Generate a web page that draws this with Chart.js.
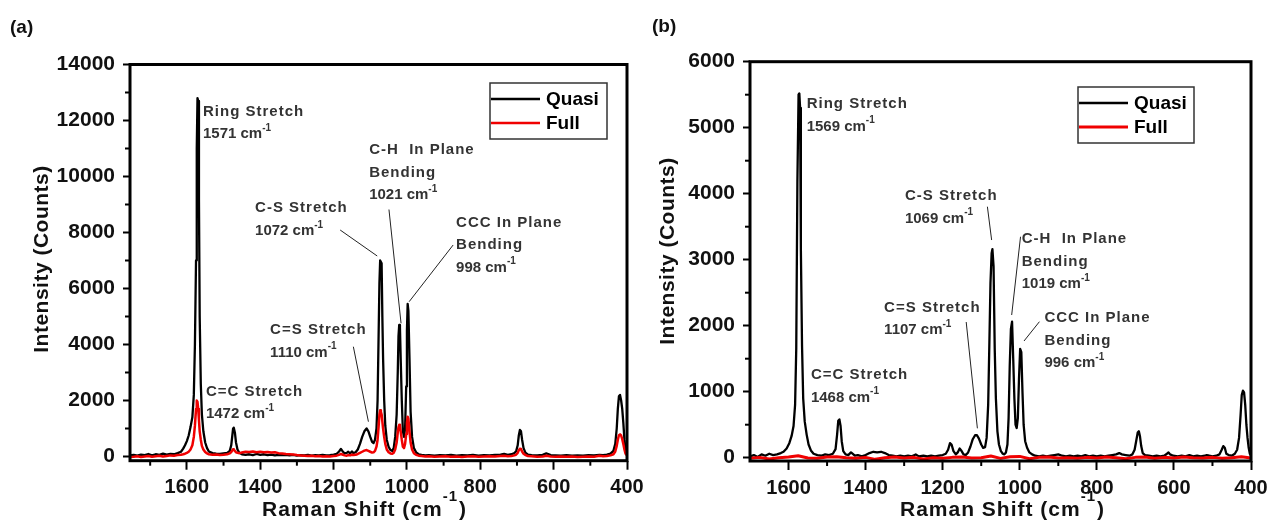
<!DOCTYPE html>
<html>
<head>
<meta charset="utf-8">
<script src="https://cdn.jsdelivr.net/npm/chart.js@4.4.1/dist/chart.umd.min.js"></script>
<style>
  html, body { margin: 0; padding: 0; background: #fff; overflow: hidden; width: 1271px; height: 529px; }
  canvas { position: absolute; top: 0; }
  #a { left: 0; }
  #b { left: 640px; }
</style>
</head>
<body>
<canvas id="a" width="660" height="529"></canvas>
<canvas id="b" width="650" height="529"></canvas>
<script>
// --- Panel (a) spectra ---
const waveA = [
  1755,1745,1735,1725,1715,1705,1695,1685,1675,1665,
  1655,1645,1635,1625,1616,1610,1605,1600,1595,1590,
  1585,1581,1578,1575,1573,1571,1569,1567,1565,1562,
  1559,1555,1550,1545,1540,1530,1520,1510,1500,1490,
  1483,1479,1476,1474,1472,1469,1466,1462,1457,1450,
  1440,1430,1420,1410,1400,1390,1380,1370,1360,1350,
  1340,1330,1320,1310,1300,1290,1280,1270,1260,1250,
  1240,1230,1220,1210,1200,1192,1185,1180,1176,1170,
  1164,1160,1155,1150,1146,1140,1134,1128,1122,1116,
  1110,1105,1100,1095,1091,1087,1083,1080,1077,1075,
  1073,1071,1069,1067,1065,1062,1059,1055,1050,1045,
  1040,1036,1032,1028,1025,1023,1021,1019,1017,1014,
  1011,1008,1005,1002,1000,998,996,993,990,986,
  981,975,968,960,950,940,925,910,895,880,
  865,850,835,820,805,790,775,760,745,735,
  725,715,707,702,698,695,692,689,686,682,
  677,670,660,645,630,620,615,608,595,580,
  565,550,535,520,505,490,475,465,455,445,
  437,432,428,425,422,419,416,413,410,407,
  404,400
];
const quasiA = [
  40,60,30,70,50,90,40,80,60,100,
  70,90,80,120,170,280,400,550,750,1050,
  1400,2200,4000,7000,11000,12800,12700,9200,5000,2600,
  1500,900,500,300,180,120,100,90,110,130,
  200,400,750,1000,1030,850,500,250,130,80,
  60,80,50,90,60,80,50,70,40,60,
  50,60,40,60,30,50,40,60,30,50,
  40,60,40,50,70,90,180,270,200,110,
  130,170,110,180,120,150,250,450,700,900,
  1000,900,700,520,480,600,1000,2000,4500,6200,
  7000,7000,6900,5000,3500,2000,1100,600,350,230,
  200,300,700,1500,3000,4300,4700,4600,3500,2000,
  900,700,1000,2500,4500,5450,5200,3500,1600,700,
  300,150,80,60,40,50,30,50,40,60,
  30,50,40,60,30,50,40,60,70,90,
  60,80,120,200,400,750,950,900,600,300,
  140,70,50,40,60,110,90,50,40,30,
  50,30,40,30,50,40,60,50,70,100,
  200,450,1000,1700,2150,2200,2000,1700,1200,600,
  250,120
];
const fullA = [
  -20,-10,10,-20,0,20,-10,10,30,0,
  20,40,30,50,60,80,100,130,170,250,
  400,700,1100,1700,2000,1950,1700,1300,900,600,
  380,250,160,110,80,60,70,50,60,80,
  110,160,220,260,250,200,150,130,120,140,
  170,160,180,150,170,150,160,140,150,120,
  110,90,80,70,50,40,30,20,30,10,
  20,0,10,0,20,30,60,90,70,40,
  30,50,40,60,50,60,90,130,170,210,
  230,200,170,140,150,200,350,600,1100,1500,
  1650,1600,1500,1250,1000,700,450,250,150,110,
  100,130,250,500,850,1050,1130,1100,900,600,
  350,300,450,800,1200,1420,1350,900,500,250,
  120,60,30,20,0,10,-10,0,10,-10,
  0,-20,0,10,-10,0,10,0,20,30,
  10,20,40,70,130,220,280,270,180,100,
  50,20,10,-10,0,30,20,0,-10,0,
  -10,0,-20,-10,0,-10,30,10,20,40,
  80,180,380,600,760,790,750,620,450,250,
  100,40
];

// --- Panel (b) spectra ---
const waveB = [
  1700,1690,1680,1670,1660,1650,1640,1630,1620,1613,
  1605,1598,1592,1587,1583,1580,1577,1574,1572,1570,
  1568,1565,1562,1558,1553,1548,1542,1535,1525,1515,
  1505,1495,1485,1478,1474,1471,1468,1465,1462,1458,
  1452,1445,1438,1434,1428,1420,1410,1400,1390,1380,
  1370,1360,1350,1340,1330,1320,1310,1300,1290,1280,
  1270,1262,1250,1240,1230,1220,1210,1200,1192,1186,
  1181,1177,1172,1166,1161,1156,1152,1146,1140,1134,
  1128,1122,1116,1111,1106,1100,1095,1090,1086,1082,
  1079,1076,1073,1071,1068,1065,1062,1058,1054,1049,
  1044,1040,1036,1032,1029,1026,1023,1020,1017,1014,
  1011,1008,1005,1002,999,996,993,990,986,981,
  975,968,960,950,940,930,920,910,900,890,
  880,870,860,850,840,830,820,810,800,790,
  780,770,760,750,742,735,725,715,708,702,
  698,694,691,688,685,681,675,665,655,645,
  635,625,618,614,610,602,590,580,570,560,
  550,540,530,520,515,508,500,490,482,476,
  472,468,464,458,450,442,436,431,427,424,
  421,418,415,412,409,406,403,400
];
const quasiB = [
  20,40,10,50,30,60,40,50,70,90,
  140,220,330,480,800,1650,4200,5500,5520,5300,
  3150,1700,900,550,350,200,110,60,40,30,
  50,40,60,130,350,560,580,480,250,100,
  50,40,80,60,30,40,20,40,70,90,
  80,90,70,40,30,20,30,20,30,20,
  50,20,30,20,30,20,30,40,60,120,
  220,200,100,50,80,140,110,50,40,80,
  170,280,340,340,290,200,150,160,300,800,
  1700,2650,3100,3160,2900,1650,900,400,200,100,
  60,50,80,200,600,1400,1950,2060,1500,900,
  500,450,600,1200,1650,1600,1000,500,250,150,
  80,50,30,20,30,20,30,40,50,30,
  20,30,20,30,20,40,20,30,20,30,
  20,30,40,50,70,50,40,30,50,120,
  250,380,400,320,180,70,40,30,20,30,
  20,30,60,80,50,30,20,30,20,40,
  20,30,20,30,40,30,20,30,50,120,
  175,150,60,40,30,60,120,300,650,950,
  1015,990,800,500,300,150,60,30
];
const waveFullB = [
  1700,1675,1650,1625,1600,1575,1550,1525,1500,1475,
  1450,1425,1400,1375,1350,1325,1300,1275,1250,1225,
  1200,1175,1150,1125,1100,1075,1050,1025,1000,975,
  950,925,900,875,850,825,800,775,750,725,
  700,675,650,625,600,575,550,525,500,475,
  450,425,400
];
const fullB = [
  -10,5,-20,0,10,30,-5,-10,10,15,
  0,-10,5,-25,0,10,-5,5,-20,0,
  -10,5,10,-5,0,25,-10,15,20,-15,
  5,10,-5,0,-10,5,-5,10,0,-15,
  5,10,-10,5,-5,10,0,-5,5,-10,
  0,15,-5
];

// --- Axes ---
const xTicks = [1600, 1400, 1200, 1000, 800, 600, 400];
const xMinorA = [1700, 1500, 1300, 1100, 900, 700, 500];
const xMinorB = [1500, 1300, 1100, 900, 700, 500];
const yTicksA = [0, 2000, 4000, 6000, 8000, 10000, 12000, 14000];
const yMinorA = [1000, 3000, 5000, 7000, 9000, 11000, 13000];
const yTicksB = [0, 1000, 2000, 3000, 4000, 5000, 6000];
const yMinorB = [500, 1500, 2500, 3500, 4500, 5500];

// --- Peak annotations: text anchor (x, y) and leader line ---
const annotA = [
  { lines: ['Ring Stretch'], wn: 1571, x: 1556, y: 12314 },
  { lines: ['C=C Stretch'], wn: 1472, x: 1548, y: 2314 },
  { lines: ['C-S Stretch'], wn: 1072, x: 1414, y: 8864 },
  { lines: ['C=S Stretch'], wn: 1110, x: 1373, y: 4518 },
  { lines: ['C-H  In Plane', 'Bending'], wn: 1021, x: 1103, y: 10946 },
  { lines: ['CCC In Plane', 'Bending'], wn: 998, x: 866, y: 8350 }
];
const leadersA = [
  [1182, 8089, 1081, 7161],
  [1146, 3921, 1105, 1243],
  [1049, 8821, 1016, 4757],
  [874, 7554, 994, 5529]
];
const annotB = [
  { lines: ['Ring Stretch'], wn: 1569, x: 1553, y: 5359 },
  { lines: ['C=C Stretch'], wn: 1468, x: 1542, y: 1253 },
  { lines: ['C-S Stretch'], wn: 1069, x: 1298, y: 3965 },
  { lines: ['C=S Stretch'], wn: 1107, x: 1352, y: 2273 },
  { lines: ['C-H  In Plane', 'Bending'], wn: 1019, x: 995, y: 3314 },
  { lines: ['CCC In Plane', 'Bending'], wn: 996, x: 936, y: 2112 }
];
const leadersB = [
  [1084, 3803, 1073, 3298],
  [1139, 2056, 1110, 445],
  [998, 3348, 1021, 2162],
  [949, 2061, 989, 1768]
];

const FONT = "'Liberation Sans', Arial, sans-serif";

// per-canvas decoration settings (pixel layout only)
const decor = {
  a: { tag: '(a)', tagX: 10, tagY: 28, annots: annotA, leaders: leadersA, minorX: xMinorA, minorY: yMinorA,
       legend: { x: 490, y: 83, w: 117, h: 56 }, yTitle: [42, 259], xTitle: [262, 510] },
  b: { tag: '(b)', tagX: 12, tagY: 27, annots: annotB, leaders: leadersB, minorX: xMinorB, minorY: yMinorB,
       legend: { x: 438, y: 87, w: 116, h: 56 }, yTitle: [28, 251], xTitle: [260, 510] }
};

function supText(ctx, x, y, base, size, supSize, raise) {
  ctx.font = `bold ${size}px ${FONT}`;
  ctx.fillText(base, x, y);
  const w = ctx.measureText(base).width;
  ctx.font = `bold ${supSize}px ${FONT}`;
  ctx.fillText('-1', x + w, y - raise);
  return x + w + ctx.measureText('-1').width;
}

const deco = {
  id: 'deco',
  afterDraw(chart) {
    const d = decor[chart.canvas.id];
    const ctx = chart.ctx, a = chart.chartArea;
    const xs = chart.scales.x, ys = chart.scales.y;
    ctx.save();
    ctx.strokeStyle = '#000';
    ctx.lineWidth = 2;
    d.minorX.forEach(v => {
      const px = xs.getPixelForValue(v);
      ctx.beginPath(); ctx.moveTo(px, a.bottom); ctx.lineTo(px, a.bottom + 5); ctx.stroke();
    });
    d.minorY.forEach(v => {
      const py = ys.getPixelForValue(v);
      ctx.beginPath(); ctx.moveTo(a.left, py); ctx.lineTo(a.left - 5, py); ctx.stroke();
    });
    ctx.lineWidth = 3;
    ctx.strokeRect(a.left, a.top, a.right - a.left, a.bottom - a.top);

    // leader lines
    ctx.lineWidth = 1;
    ctx.strokeStyle = '#222';
    d.leaders.forEach(l => {
      ctx.beginPath();
      ctx.moveTo(xs.getPixelForValue(l[0]), ys.getPixelForValue(l[1]));
      ctx.lineTo(xs.getPixelForValue(l[2]), ys.getPixelForValue(l[3]));
      ctx.stroke();
    });

    // peak labels
    ctx.fillStyle = '#333';
    ctx.textBaseline = 'middle';
    ctx.textAlign = 'left';
    ctx.letterSpacing = '1px';
    d.annots.forEach(an => {
      const x0 = xs.getPixelForValue(an.x);
      let y0 = ys.getPixelForValue(an.y);
      ctx.font = `bold 15px ${FONT}`;
      an.lines.forEach(t => { ctx.fillText(t, x0, y0); y0 += 22.5; });
      ctx.letterSpacing = '0px';
      supText(ctx, x0, y0, an.wn + ' cm', 15, 10, 6);
      ctx.letterSpacing = '1px';
    });
    ctx.letterSpacing = '0px';

    // legend
    const L = d.legend;
    ctx.fillStyle = '#fff';
    ctx.fillRect(L.x, L.y, L.w, L.h);
    ctx.strokeStyle = '#333';
    ctx.lineWidth = 1.5;
    ctx.strokeRect(L.x, L.y, L.w, L.h);
    const rows = [chart.data.datasets[0], chart.data.datasets[1]];
    rows.forEach((ds, i) => {
      const ly = L.y + 16 + i * 24;
      ctx.strokeStyle = ds.borderColor;
      ctx.lineWidth = ds.borderWidth;
      ctx.beginPath(); ctx.moveTo(L.x + 1, ly); ctx.lineTo(L.x + 50, ly); ctx.stroke();
      ctx.fillStyle = '#000';
      ctx.font = `bold 19px ${FONT}`;
      ctx.fillText(ds.label, L.x + 56, ly + 1);
    });

    // axis titles
    ctx.fillStyle = '#111';
    ctx.save();
    ctx.translate(d.yTitle[0], d.yTitle[1]);
    ctx.rotate(-Math.PI / 2);
    ctx.textAlign = 'center';
    ctx.font = `bold 21px ${FONT}`;
    ctx.letterSpacing = '0.5px';
    ctx.fillText('Intensity (Counts)', 0, 0);
    ctx.restore();

    ctx.letterSpacing = '1px';
    const ex = supText(ctx, d.xTitle[0], d.xTitle[1], 'Raman Shift (cm', 21, 15, 13);
    ctx.font = `bold 21px ${FONT}`;
    ctx.fillText(')', ex + 1, d.xTitle[1]);
    ctx.letterSpacing = '0px';

    // panel tag
    ctx.font = `bold 19px ${FONT}`;
    ctx.fillText(d.tag, d.tagX, d.tagY);
    ctx.restore();
  }
};

function makeChart(id, p) {
  return new Chart(document.getElementById(id), {
    type: 'line',
    data: {
      datasets: [
        { label: 'Quasi', data: p.wave.map((x, i) => ({ x, y: p.quasi[i] })),
          borderColor: '#000', borderWidth: 2.3, pointRadius: 0, borderJoinStyle: 'round', order: 1 },
        { label: 'Full', data: p.fullWave.map((x, i) => ({ x, y: p.full[i] })),
          borderColor: '#f00000', borderWidth: p.redWidth, pointRadius: 0, borderJoinStyle: 'round', order: 0 }
      ]
    },
    options: {
      responsive: false,
      animation: false,
      devicePixelRatio: 1,
      layout: { padding: p.pad },
      plugins: { legend: { display: false }, tooltip: { enabled: false } },
      scales: {
        x: {
          type: 'linear', reverse: true, min: 400, max: p.xMax,
          afterBuildTicks: s => { s.ticks = xTicks.map(v => ({ value: v })); },
          afterFit: s => { s.height = 40; },
          ticks: { callback: v => String(v), font: { family: FONT, size: 20, weight: 'bold' },
                   color: '#111', padding: 6, maxRotation: 0, autoSkip: false },
          grid: { drawOnChartArea: false, tickLength: 9, tickWidth: 2, tickColor: '#000' },
          border: { display: false }
        },
        y: {
          type: 'linear', min: p.yMin, max: p.yMax,
          afterBuildTicks: s => { s.ticks = p.yTicks.map(v => ({ value: v })); },
          afterFit: s => { s.width = p.yWidth; },
          ticks: { callback: v => String(v), font: { family: FONT, size: 21, weight: 'bold' },
                   color: '#111', padding: 8, autoSkip: false },
          grid: { drawOnChartArea: false, tickLength: 7, tickWidth: 2, tickColor: '#000' },
          border: { display: false }
        }
      }
    },
    plugins: [deco]
  });
}

makeChart('a', {
  wave: waveA, quasi: quasiA, fullWave: waveA, full: fullA, redWidth: 2.5,
  xMax: 1755, yMin: -150, yMax: 14000, yTicks: yTicksA, yWidth: 100,
  pad: { left: 30, right: 33, top: 64.5, bottom: 28.3 }
});
makeChart('b', {
  wave: waveB, quasi: quasiB, fullWave: waveFullB, full: fullB, redWidth: 3,
  xMax: 1700, yMin: -50, yMax: 6000, yTicks: yTicksB, yWidth: 100,
  pad: { left: 10, right: 39, top: 61.7, bottom: 28 }
});
</script>
</body>
</html>
